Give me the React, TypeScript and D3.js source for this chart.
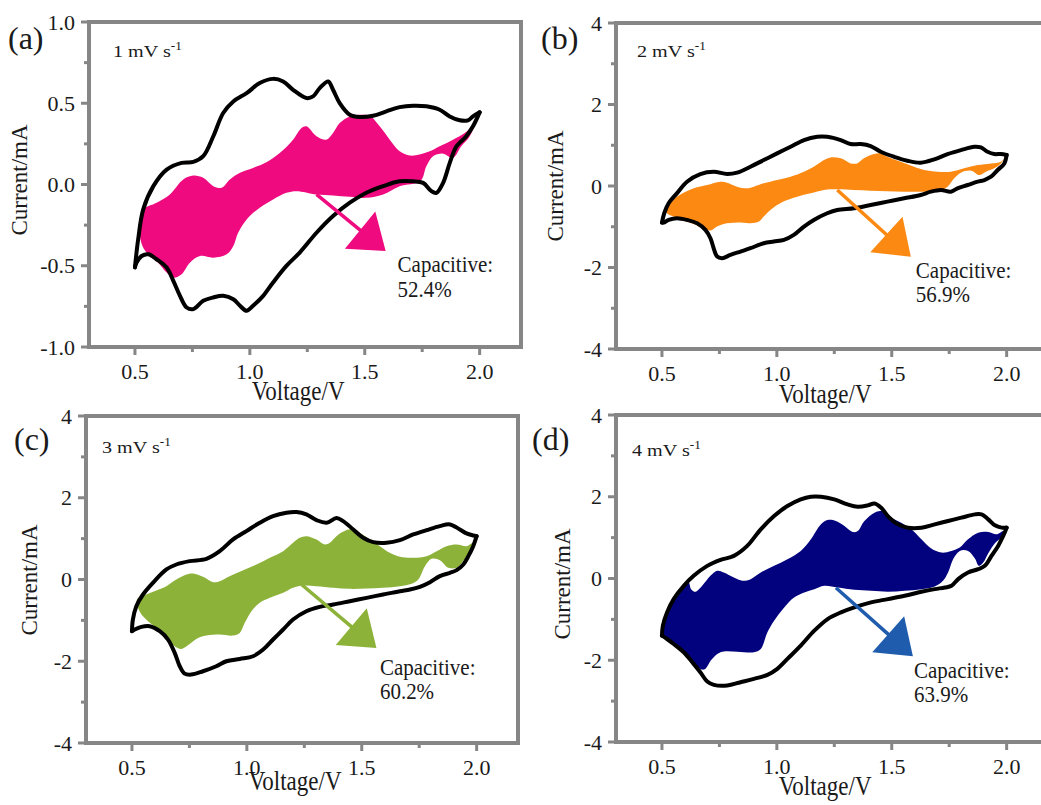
import React, { useEffect, useRef } from "react";
import * as d3 from "d3";

type Pt = [number, number];

// CV loops: [voltage V, current mA]
// anodic sweep goes 0.5 -> 2.0 V, cathodic comes back 2.0 -> 0.5 V
const cv1Anodic: Pt[] = [
  [0.5, -0.51], [0.514, -0.337], [0.536, -0.153], [0.58, -0.01], [0.638, 0.092], [0.703, 0.133],
  [0.754, 0.139], [0.797, 0.174], [0.841, 0.297], [0.884, 0.44], [0.928, 0.511], [0.986, 0.562],
  [1.043, 0.624], [1.101, 0.65], [1.145, 0.634], [1.188, 0.583], [1.246, 0.532], [1.275, 0.542],
  [1.304, 0.593], [1.341, 0.634], [1.362, 0.583], [1.391, 0.501], [1.435, 0.429], [1.478, 0.415],
  [1.536, 0.423], [1.594, 0.45], [1.652, 0.476], [1.71, 0.485], [1.768, 0.481], [1.826, 0.46],
  [1.87, 0.419], [1.913, 0.395], [1.949, 0.395], [1.971, 0.419], [2.0, 0.444],
];
const cv1Cathodic: Pt[] = [
  [1.971, 0.358], [1.942, 0.297], [1.899, 0.235], [1.87, 0.133], [1.841, 0.01], [1.812, -0.051],
  [1.79, -0.041], [1.754, 0.01], [1.71, 0.02], [1.652, 0.02], [1.58, -0.01], [1.507, -0.051],
  [1.435, -0.112], [1.362, -0.194], [1.29, -0.297], [1.217, -0.419], [1.159, -0.501], [1.101, -0.603],
  [1.058, -0.685], [1.014, -0.746], [0.986, -0.777], [0.957, -0.746], [0.928, -0.706], [0.884, -0.685],
  [0.841, -0.695], [0.797, -0.716], [0.754, -0.767], [0.725, -0.757], [0.696, -0.685], [0.667, -0.593],
  [0.638, -0.511], [0.594, -0.46], [0.558, -0.429], [0.529, -0.44], [0.507, -0.481],
];
const cap1Top: Pt[] = [
  [0.536, -0.153], [0.594, -0.112], [0.652, -0.061], [0.71, 0.031], [0.754, 0.055], [0.797, 0.041],
  [0.841, -0.01], [0.877, -0.02], [0.913, 0.031], [0.957, 0.072], [1.014, 0.102], [1.072, 0.137],
  [1.13, 0.194], [1.188, 0.276], [1.225, 0.348], [1.246, 0.358], [1.29, 0.297], [1.333, 0.276],
  [1.362, 0.317], [1.391, 0.378], [1.435, 0.419], [1.493, 0.429], [1.522, 0.423], [1.565, 0.358],
  [1.609, 0.276], [1.652, 0.204], [1.696, 0.178], [1.739, 0.184], [1.783, 0.204], [1.826, 0.235],
  [1.884, 0.276], [1.935, 0.317], [1.971, 0.368], [2.0, 0.444],
];
const cap1Bottom: Pt[] = [
  [1.957, 0.297], [1.92, 0.235], [1.884, 0.164], [1.841, 0.19], [1.797, 0.174], [1.768, 0.112],
  [1.742, 0.02], [1.652, -0.01], [1.58, -0.061], [1.507, -0.082], [1.435, -0.076], [1.362, -0.067],
  [1.29, -0.061], [1.203, -0.041], [1.159, -0.051], [1.101, -0.092], [1.043, -0.143], [0.986, -0.215],
  [0.949, -0.297], [0.928, -0.378], [0.899, -0.429], [0.841, -0.45], [0.783, -0.44], [0.739, -0.481],
  [0.703, -0.552], [0.667, -0.573], [0.638, -0.542], [0.601, -0.481], [0.565, -0.44], [0.536, -0.389],
  [0.522, -0.317], [0.525, -0.215],
];

const cv2Anodic: Pt[] = [
  [0.5, -0.898], [0.51, -0.669], [0.529, -0.424], [0.565, -0.18], [0.609, 0.106], [0.667, 0.294],
  [0.725, 0.351], [0.783, 0.294], [0.827, 0.327], [0.885, 0.473], [0.943, 0.637], [1.001, 0.8],
  [1.06, 0.963], [1.118, 1.127], [1.176, 1.208], [1.219, 1.208], [1.278, 1.127], [1.321, 1.029],
  [1.365, 1.029], [1.408, 0.98], [1.452, 0.841], [1.51, 0.718], [1.568, 0.62], [1.626, 0.571],
  [1.685, 0.653], [1.743, 0.784], [1.801, 0.882], [1.859, 0.963], [1.888, 0.947], [1.917, 0.841],
  [1.946, 0.784], [1.975, 0.784], [2.0, 0.76],
];
const cv2Cathodic: Pt[] = [
  [1.99, 0.555], [1.961, 0.392], [1.932, 0.229], [1.903, 0.147], [1.874, 0.106], [1.83, 0.024],
  [1.786, -0.057], [1.757, -0.139], [1.714, -0.098], [1.67, -0.139], [1.626, -0.22], [1.554, -0.302],
  [1.481, -0.384], [1.408, -0.465], [1.336, -0.547], [1.263, -0.588], [1.219, -0.669], [1.161, -0.833],
  [1.118, -0.996], [1.074, -1.2], [1.031, -1.322], [0.987, -1.363], [0.943, -1.404], [0.885, -1.527],
  [0.842, -1.608], [0.798, -1.69], [0.762, -1.771], [0.74, -1.731], [0.725, -1.527], [0.711, -1.282],
  [0.689, -1.078], [0.653, -0.914], [0.609, -0.833], [0.565, -0.792], [0.529, -0.833], [0.507, -0.898],
];
const cap2Top: Pt[] = [
  [0.515, -0.506], [0.565, -0.261], [0.638, -0.057], [0.696, 0.024], [0.754, 0.106], [0.783, 0.082],
  [0.827, -0.016], [0.871, -0.057], [0.9, -0.016], [0.943, 0.065], [1.001, 0.147], [1.06, 0.229],
  [1.118, 0.351], [1.161, 0.473], [1.205, 0.637], [1.234, 0.702], [1.278, 0.678], [1.321, 0.555],
  [1.35, 0.555], [1.379, 0.678], [1.423, 0.784], [1.452, 0.8], [1.481, 0.718], [1.539, 0.596],
  [1.597, 0.473], [1.641, 0.392], [1.699, 0.351], [1.757, 0.351], [1.815, 0.433], [1.874, 0.514],
  [1.932, 0.555], [1.975, 0.596], [1.996, 0.718],
];
const cap2Bottom: Pt[] = [
  [1.975, 0.555], [1.946, 0.433], [1.91, 0.351], [1.881, 0.269], [1.845, 0.376], [1.801, 0.327],
  [1.772, 0.188], [1.743, -0.016], [1.706, -0.114], [1.626, -0.139], [1.554, -0.139], [1.481, -0.131],
  [1.408, -0.114], [1.336, -0.098], [1.263, -0.082], [1.205, -0.098], [1.147, -0.18], [1.089, -0.261],
  [1.045, -0.343], [1.001, -0.465], [0.972, -0.588], [0.943, -0.751], [0.922, -0.873], [0.885, -0.914],
  [0.827, -0.898], [0.769, -0.931], [0.74, -0.996], [0.711, -1.094], [0.682, -1.037], [0.638, -0.931],
  [0.594, -0.833], [0.551, -0.751], [0.522, -0.669],
];

const cv3Anodic: Pt[] = [
  [0.5, -1.265], [0.504, -0.98], [0.519, -0.653], [0.548, -0.367], [0.591, -0.082], [0.65, 0.245],
  [0.693, 0.367], [0.751, 0.449], [0.824, 0.506], [0.882, 0.694], [0.94, 0.98], [0.998, 1.184],
  [1.056, 1.388], [1.114, 1.551], [1.172, 1.633], [1.216, 1.649], [1.259, 1.592], [1.303, 1.453],
  [1.347, 1.388], [1.39, 1.502], [1.419, 1.429], [1.463, 1.224], [1.506, 1.02], [1.55, 0.914],
  [1.608, 0.898], [1.666, 0.963], [1.724, 1.102], [1.782, 1.208], [1.84, 1.306], [1.884, 1.347],
  [1.927, 1.224], [1.956, 1.127], [1.985, 1.078], [2.0, 1.061],
];
const cv3Cathodic: Pt[] = [
  [1.985, 0.816], [1.964, 0.571], [1.942, 0.367], [1.913, 0.229], [1.884, 0.163], [1.84, 0.082],
  [1.797, -0.065], [1.753, -0.18], [1.71, -0.245], [1.666, -0.286], [1.593, -0.367], [1.521, -0.449],
  [1.448, -0.531], [1.376, -0.612], [1.317, -0.669], [1.259, -0.776], [1.201, -0.98], [1.158, -1.224],
  [1.114, -1.469], [1.071, -1.714], [1.027, -1.878], [0.969, -1.943], [0.911, -2.0], [0.867, -2.122],
  [0.809, -2.245], [0.758, -2.327], [0.729, -2.302], [0.708, -2.122], [0.686, -1.796], [0.657, -1.469],
  [0.621, -1.265], [0.577, -1.143], [0.541, -1.159], [0.512, -1.224],
];
const cap3Top: Pt[] = [
  [0.522, -0.49], [0.562, -0.367], [0.606, -0.269], [0.65, -0.163], [0.693, 0.0], [0.737, 0.122],
  [0.766, 0.147], [0.809, 0.065], [0.853, -0.065], [0.882, -0.041], [0.925, 0.082], [0.984, 0.229],
  [1.042, 0.367], [1.1, 0.531], [1.158, 0.694], [1.201, 0.898], [1.23, 1.02], [1.259, 1.061],
  [1.303, 0.98], [1.339, 0.857], [1.361, 0.898], [1.39, 1.061], [1.434, 1.208], [1.463, 1.241],
  [1.492, 1.143], [1.535, 0.98], [1.579, 0.816], [1.622, 0.653], [1.666, 0.555], [1.724, 0.531],
  [1.782, 0.571], [1.826, 0.694], [1.869, 0.816], [1.913, 0.857], [1.956, 0.816], [1.985, 0.898],
];
const cap3Bottom: Pt[] = [
  [1.985, 0.776], [1.956, 0.571], [1.935, 0.408], [1.913, 0.286], [1.877, 0.286], [1.84, 0.473],
  [1.804, 0.506], [1.775, 0.327], [1.746, 0.0], [1.717, -0.106], [1.666, -0.163], [1.593, -0.204],
  [1.521, -0.22], [1.448, -0.229], [1.376, -0.204], [1.303, -0.163], [1.245, -0.147], [1.201, -0.204],
  [1.158, -0.327], [1.1, -0.449], [1.056, -0.571], [1.02, -0.776], [0.991, -1.061], [0.969, -1.306],
  [0.94, -1.371], [0.882, -1.347], [0.824, -1.371], [0.78, -1.453], [0.751, -1.576], [0.715, -1.698],
  [0.686, -1.633], [0.65, -1.404], [0.606, -1.184], [0.562, -0.98], [0.533, -0.776],
];

const cv4Anodic: Pt[] = [
  [0.5, -1.398], [0.504, -1.154], [0.522, -0.829], [0.551, -0.504], [0.595, -0.179], [0.638, 0.065],
  [0.697, 0.309], [0.755, 0.455], [0.813, 0.553], [0.871, 0.797], [0.93, 1.203], [0.988, 1.528],
  [1.046, 1.772], [1.104, 1.935], [1.148, 2.0], [1.192, 2.0], [1.25, 1.935], [1.308, 1.813],
  [1.352, 1.756], [1.396, 1.789], [1.425, 1.837], [1.454, 1.732], [1.483, 1.528], [1.527, 1.325],
  [1.57, 1.244], [1.629, 1.244], [1.687, 1.325], [1.745, 1.407], [1.803, 1.488], [1.862, 1.569],
  [1.891, 1.569], [1.92, 1.447], [1.949, 1.301], [1.978, 1.244], [2.0, 1.244],
];
const cv4Cathodic: Pt[] = [
  [1.985, 1.041], [1.963, 0.797], [1.934, 0.553], [1.905, 0.309], [1.876, 0.228], [1.832, 0.146],
  [1.789, -0.016], [1.76, -0.179], [1.731, -0.22], [1.687, -0.26], [1.629, -0.325], [1.556, -0.423],
  [1.483, -0.504], [1.41, -0.585], [1.337, -0.707], [1.279, -0.829], [1.221, -0.992], [1.163, -1.276],
  [1.104, -1.642], [1.046, -1.967], [1.002, -2.211], [0.959, -2.358], [0.9, -2.455], [0.842, -2.537],
  [0.784, -2.618], [0.726, -2.602], [0.697, -2.52], [0.667, -2.293], [0.638, -2.089], [0.595, -1.805],
  [0.551, -1.602], [0.522, -1.48],
];
const cap4Top: Pt[] = [
  [0.5, -1.358], [0.522, -0.829], [0.551, -0.504], [0.595, -0.22], [0.616, -0.098], [0.627, -0.26],
  [0.646, -0.325], [0.675, -0.179], [0.711, 0.065], [0.74, 0.187], [0.769, 0.146], [0.813, 0.024],
  [0.85, -0.057], [0.886, -0.016], [0.93, 0.146], [0.988, 0.309], [1.046, 0.472], [1.104, 0.675],
  [1.148, 0.959], [1.192, 1.325], [1.221, 1.431], [1.257, 1.407], [1.294, 1.285], [1.33, 1.138],
  [1.352, 1.163], [1.381, 1.407], [1.425, 1.61], [1.454, 1.65], [1.498, 1.488], [1.541, 1.366],
  [1.585, 1.203], [1.629, 0.959], [1.672, 0.732], [1.716, 0.634], [1.76, 0.675], [1.796, 0.756],
  [1.832, 0.959], [1.876, 1.122], [1.92, 1.138], [1.956, 1.081], [1.985, 1.163],
];
const cap4Bottom: Pt[] = [
  [1.978, 1.024], [1.949, 0.862], [1.92, 0.618], [1.898, 0.39], [1.879, 0.309], [1.862, 0.488],
  [1.832, 0.675], [1.796, 0.675], [1.767, 0.472], [1.745, 0.146], [1.723, -0.057], [1.687, -0.195],
  [1.629, -0.26], [1.556, -0.301], [1.483, -0.325], [1.41, -0.301], [1.337, -0.276], [1.265, -0.22],
  [1.206, -0.179], [1.163, -0.26], [1.119, -0.341], [1.075, -0.463], [1.032, -0.707], [0.988, -1.033],
  [0.959, -1.317], [0.93, -1.724], [0.9, -1.805], [0.828, -1.789], [0.755, -1.805], [0.718, -1.967],
  [0.682, -2.228], [0.638, -2.089], [0.595, -1.805], [0.551, -1.602], [0.522, -1.48],
];

const panelTags = ["(a)", "(b)", "(c)", "(d)"];
const scanRates = ["1", "2", "3", "4"];
const capacitive = ["52.4%", "56.9%", "60.2%", "63.9%"];
const fillColors = ["#ef0a7f", "#fb8912", "#8cb23a", "#02027e"];
const arrowColors = ["#ef0a7f", "#fb8912", "#8cb23a", "#1f5cad"];
const arrowFrom: Pt[] = [[1.29, -0.061], [1.263, -0.098], [1.238, -0.123], [1.257, -0.227]];
const arrowTo: Pt[] = [[1.591, -0.409], [1.583, -1.735], [1.564, -1.674], [1.592, -1.9]];
const labelAt: Pt[] = [[1.643, -0.54], [1.605, -2.26], [1.579, -2.33], [1.597, -2.43]];

const xTicks = [0.5, 1.0, 1.5, 2.0];
const xMinor = [0.75, 1.25, 1.75];
const yTicksSmall = [-1, -0.5, 0, 0.5, 1];
const yMinorSmall = [-0.75, -0.25, 0.25, 0.75];
const yTicksBig = [-4, -2, 0, 2, 4];
const yMinorBig = [-3, -1, 1, 3];

const anodic = [cv1Anodic, cv2Anodic, cv3Anodic, cv4Anodic];
const cathodic = [cv1Cathodic, cv2Cathodic, cv3Cathodic, cv4Cathodic];
const capTop = [cap1Top, cap2Top, cap3Top, cap4Top];
const capBottom = [cap1Bottom, cap2Bottom, cap3Bottom, cap4Bottom];

// page placement of each panel frame and its texts
const frames = [
  { left: 89, top: 22, h: 325, tagX: 8, tagY: 49, rateX: 113, rateY: 57, ytX: 27, ytY: 180, xtY: 400 },
  { left: 616, top: 23, h: 326, tagX: 541, tagY: 49, rateX: 637, rateY: 56.5, ytX: 563, ytY: 186, xtY: 403 },
  { left: 86, top: 416, h: 327, tagX: 14, tagY: 450, rateX: 102, rateY: 453, ytX: 37, ytY: 580, xtY: 790 },
  { left: 616, top: 415, h: 327, tagX: 532, tagY: 450, rateX: 632, rateY: 456, ytX: 570, ytY: 584, xtY: 795 },
];
const W = 1041, H = 805;
const FONT = "'Liberation Serif', 'Times New Roman', serif";
const INK = "#1a1a1a";

function App() {
  const ref = useRef<SVGSVGElement>(null);

  useEffect(() => {
    drawChart();
  }, []);

  function drawChart() {
    const svg = d3.select(ref.current);
    svg.selectAll("*").remove();

    frames.forEach((f, i) => {
      const g = svg.append("g");
      const x = d3.scaleLinear().domain([0.3, 2.18]).range([f.left, f.left + 432]);
      const small = i === 0;
      const y = d3.scaleLinear().domain(small ? [-1, 1] : [-4, 4]).range([f.top + f.h, f.top]);
      const yMaj = small ? yTicksSmall : yTicksBig;
      const yMin = small ? yMinorSmall : yMinorBig;
      const bottom = f.top + f.h;
      const gray = "#868686";

      // capacitive region
      const fillLine = d3.line<Pt>().x(d => x(d[0])).y(d => y(d[1])).curve(d3.curveCatmullRomClosed.alpha(0.5));
      g.append("path")
        .attr("d", fillLine([...capTop[i], ...capBottom[i]]))
        .attr("fill", fillColors[i]);

      // total CV loop
      const loop = d3.line<Pt>().x(d => x(d[0])).y(d => y(d[1])).curve(d3.curveCatmullRom.alpha(0.5));
      const an = anodic[i];
      const branches = [an, [an[an.length - 1], ...cathodic[i], an[0]]];
      branches.forEach(b => {
        g.append("path")
          .attr("d", loop(b))
          .attr("fill", "none")
          .attr("stroke", "#000")
          .attr("stroke-width", 4)
          .attr("stroke-linejoin", "round")
          .attr("stroke-linecap", "round");
      });

      // arrow
      const p0 = [x(arrowFrom[i][0]), y(arrowFrom[i][1])];
      const p1 = [x(arrowTo[i][0]), y(arrowTo[i][1])];
      const len = Math.hypot(p1[0] - p0[0], p1[1] - p0[1]);
      const ux = (p1[0] - p0[0]) / len, uy = (p1[1] - p0[1]) / len;
      const headLen = 33, headHalf = 24;
      const bx = p1[0] - ux * headLen, by = p1[1] - uy * headLen;
      g.append("line")
        .attr("x1", p0[0]).attr("y1", p0[1])
        .attr("x2", bx + ux * 4).attr("y2", by + uy * 4)
        .attr("stroke", arrowColors[i])
        .attr("stroke-width", 3.5);
      g.append("path")
        .attr("d", `M${p1[0]},${p1[1]}L${bx - uy * headHalf},${by + ux * headHalf}L${bx + uy * headHalf},${by - ux * headHalf}Z`)
        .attr("fill", arrowColors[i]);

      // label (the figure's text is a bit taller than wide)
      const lt = g.append("text")
        .attr("transform", `translate(${x(labelAt[i][0])},${y(labelAt[i][1])}) scale(1,1.13)`)
        .attr("font-family", FONT)
        .attr("font-size", 21)
        .attr("fill", INK);
      lt.append("tspan").attr("x", 0).text("Capacitive:");
      lt.append("tspan").attr("x", 0).attr("dy", 21.5).text(capacitive[i]);

      // frame
      g.append("path")
        .attr("d", `M${f.left},${bottom}V${f.top}H${f.left + 432}V${bottom}Z`)
        .attr("fill", "none")
        .attr("stroke", gray)
        .attr("stroke-width", 4);

      // x ticks
      xTicks.forEach(t => {
        g.append("line").attr("x1", x(t)).attr("x2", x(t)).attr("y1", bottom).attr("y2", bottom + 8)
          .attr("stroke", gray).attr("stroke-width", 3);
        g.append("text").attr("x", x(t)).attr("y", bottom + 32)
          .attr("text-anchor", "middle").attr("font-family", FONT).attr("font-size", 22)
          .attr("fill", INK).text(d3.format(".1f")(t));
      });
      xMinor.forEach(t => {
        g.append("line").attr("x1", x(t)).attr("x2", x(t)).attr("y1", bottom).attr("y2", bottom + 5)
          .attr("stroke", gray).attr("stroke-width", 3);
      });

      // y ticks
      yMaj.forEach(t => {
        g.append("line").attr("x1", f.left - 8).attr("x2", f.left).attr("y1", y(t)).attr("y2", y(t))
          .attr("stroke", gray).attr("stroke-width", 3);
        g.append("text").attr("x", f.left - 14).attr("y", y(t)).attr("dy", "0.35em")
          .attr("text-anchor", "end").attr("font-family", FONT).attr("font-size", 22)
          .attr("fill", INK).text(small ? d3.format(".1f")(t).replace("−", "-") : String(t));
      });
      yMin.forEach(t => {
        g.append("line").attr("x1", f.left - 5).attr("x2", f.left).attr("y1", y(t)).attr("y2", y(t))
          .attr("stroke", gray).attr("stroke-width", 3);
      });

      // axis titles
      g.append("text").attr("transform", `translate(${x(1.21)},${f.xtY}) scale(1,1.17)`)
        .attr("text-anchor", "middle").attr("font-family", FONT).attr("font-size", 23)
        .attr("fill", INK).text("Voltage/V");
      g.append("text").attr("transform", `translate(${f.ytX},${f.ytY}) rotate(-90)`)
        .attr("text-anchor", "middle").attr("font-family", FONT).attr("font-size", 23)
        .attr("fill", INK).text("Current/mA");

      // panel tag and scan rate
      g.append("text").attr("x", f.tagX).attr("y", f.tagY)
        .attr("font-family", FONT).attr("font-size", 32).attr("fill", INK).text(panelTags[i]);
      const rt = g.append("text").attr("transform", `translate(${f.rateX},${f.rateY}) scale(1.15,1)`)
        .attr("font-family", FONT).attr("font-size", 17.5).attr("fill", INK);
      rt.append("tspan").text(scanRates[i] + " mV s");
      rt.append("tspan").attr("dy", -7).attr("font-size", 11.5).text("-1");
    });
  }

  return (
    <svg ref={ref} width={W} height={H}
      style={{ position: "absolute", left: 0, top: 0, background: "#fff" }} />
  );
}

export default App;
